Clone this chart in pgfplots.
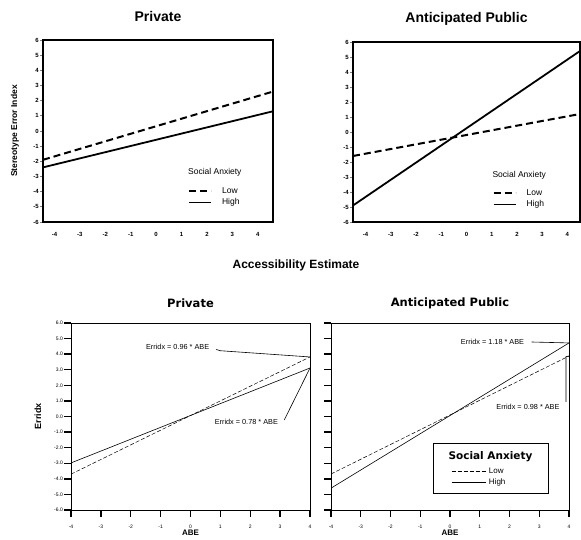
\documentclass[border=0pt]{standalone}
\usepackage{fontspec}
\setmainfont{Liberation Sans}
\newfontfamily\wide{DejaVu Sans}
\usepackage{pgfplots}
\pgfplotsset{compat=1.18}

\pgfplotsset{
  toppanel/.style={
    scale only axis, anchor=south west,
    ymin=-6, ymax=6,
    xtick={-4,-3,...,4}, ytick={-6,-5,...,6},
    axis line style={line width=1.1pt},
    tick align=outside, major tick length=3pt, tick pos=left,
    xtick style={draw=none},
    ytick style={line width=0.8pt},
    /pgf/number format/assume math mode=true,
    ticklabel style={font=\bfseries\fontsize{6}{7}\selectfont},
    xticklabel style={anchor=center, yshift=-9pt},
    yticklabel style={anchor=east, inner sep=1pt},
    title style={font=\bfseries\fontsize{14}{16}\selectfont, anchor=center, at={(0.5,1)}, yshift=17pt},
    legend cell align=left,
    legend image code/.code={\draw[##1] (0pt,0pt) -- (22pt,0pt);},
    legend style={draw=none, fill=none, inner sep=0pt, row sep=0pt,
      font=\fontsize{8.5}{9}\selectfont,
      nodes={inner sep=2pt},
      /tikz/every odd column/.append style={column sep=8pt}},
  },
  botpanel/.style={
    scale only axis, anchor=south west,
    width=238pt, height=187pt,
    xmin=-4, xmax=4, ymin=-6, ymax=6,
    xtick={-4,-3,...,4}, ytick={-6,-5,...,6},
    axis line style={line width=0.8pt},
    tick align=outside, major tick length=7pt, tick pos=left,
    major tick style={line width=1.4pt, black},
    /pgf/number format/assume math mode=true,
    ticklabel style={font=\fontsize{5}{6}\selectfont},
    xticklabel style={anchor=center, yshift=-10pt},
    yticklabel style={anchor=east, inner sep=1pt,
      /pgf/number format/.cd, fixed, fixed zerofill, precision=1},
    title style={font=\wide\bfseries\fontsize{11.5}{13}\selectfont, anchor=center, at={(0.5,1)}, yshift=14pt},
    xlabel={ABE},
    xlabel style={font=\bfseries\fontsize{8}{9}\selectfont, anchor=center, at={(0.5,0)}, yshift=-23pt},
  },
}

\begin{document}
\begin{tikzpicture}[x=1pt,y=1pt]
\useasboundingbox (0,0) rectangle (581,540);

% shared labels of the upper row
\node[font=\bfseries\fontsize{12}{14}\selectfont] at (296,275) {Accessibility Estimate};
\node[font=\bfseries\fontsize{8.5}{10}\selectfont, rotate=90] at (15,409) {Stereotype Error Index};

% upper left
\begin{axis}[toppanel, at={(43pt,318pt)}, width=230pt, height=182pt,
  xmin=-4.45, xmax=4.6, title={Private},
  legend style={at={(0.63,0.203)}, anchor=north west}]
\addplot[black, line width=2pt, dash pattern=on 7pt off 4pt] coordinates {(-4.45,-1.9) (4.6,2.6)};
\addplot[black, line width=1.8pt] coordinates {(-4.45,-2.4) (4.6,1.3)};
\legend{Low, High}
\node[anchor=west, inner sep=0pt, font=\fontsize{8.5}{9}\selectfont] at (axis description cs:0.63,0.275) {Social Anxiety};
\end{axis}

% upper right
\begin{axis}[toppanel, at={(353pt,318pt)}, width=227pt, height=180pt,
  xmin=-4.5, xmax=4.5, title={Anticipated Public},
  legend style={at={(0.614,0.194)}, anchor=north west}]
\addplot[black, line width=2pt, dash pattern=on 7pt off 4pt] coordinates {(-4.5,-1.6) (4.5,1.2)};
\addplot[black, line width=1.8pt] coordinates {(-4.5,-4.9) (4.5,5.4)};
\legend{Low, High}
\node[anchor=west, inner sep=0pt, font=\fontsize{8.5}{9}\selectfont] at (axis description cs:0.614,0.261) {Social Anxiety};
\end{axis}

% lower left
\begin{axis}[botpanel, at={(71pt,30pt)}, width=239pt, title={Private},
  ylabel={Erridx},
  ylabel style={font=\bfseries\fontsize{9}{10}\selectfont, anchor=center, at={(0,0.5)}, yshift=33pt}]
\addplot[black, line width=0.5pt, dash pattern=on 4pt off 2pt] coordinates {(-4,-3.7) (4,3.82)};
\addplot[black, line width=0.6pt] coordinates {(-4,-2.98) (4,3.11)};
\node[font=\fontsize{7.3}{8}\selectfont, inner sep=0pt] at (axis cs:-0.43,4.46) {Erridx = 0.96 * ABE};
\draw[line width=0.6pt] (axis cs:0.86,4.3) -- (axis cs:1.0,4.22) -- (axis cs:4,3.82);
\node[font=\fontsize{7.3}{8}\selectfont, inner sep=0pt] at (axis cs:1.87,-0.35) {Erridx = 0.78 * ABE};
\draw[line width=0.6pt] (axis cs:3.14,-0.22) -- (axis cs:4,3.11);
\end{axis}

% lower right
\begin{axis}[botpanel, at={(331pt,30pt)}, title={Anticipated Public},
  yticklabels={},
  legend cell align=left,
  legend image code/.code={\draw[#1] (0pt,0pt) -- (34pt,0pt);},
  legend style={at={(0.505,0.238)}, anchor=north west, draw=none, fill=none,
    inner sep=0pt, row sep=0pt, font=\fontsize{8}{9}\selectfont,
    nodes={inner sep=2pt},
    /tikz/every odd column/.append style={column sep=1pt}}]
\addplot[black, line width=0.5pt, dash pattern=on 4pt off 2pt] coordinates {(-4,-3.69) (4,3.88)};
\addplot[black, line width=0.6pt] coordinates {(-4,-4.6) (4,4.72)};
\legend{Low, High}
\node[font=\fontsize{7.3}{8}\selectfont, inner sep=0pt] at (axis cs:1.43,4.78) {Erridx = 1.18 * ABE};
\draw[line width=0.6pt] (axis cs:2.74,4.78) -- (axis cs:4,4.72);
\node[font=\fontsize{7.3}{8}\selectfont, inner sep=0pt] at (axis cs:2.62,0.61) {Erridx = 0.98 * ABE};
\draw[line width=0.6pt] (axis cs:3.9,0.93) -- (axis cs:3.9,3.84) -- (axis cs:4,3.88);
\draw[line width=0.9pt] (axis description cs:0.429,0.091) rectangle (axis description cs:0.912,0.358);
\node[font=\wide\bfseries\fontsize{10.5}{12}\selectfont, inner sep=0pt] at (axis description cs:0.670,0.283) {Social Anxiety};
\end{axis}
\end{tikzpicture}
\end{document}
